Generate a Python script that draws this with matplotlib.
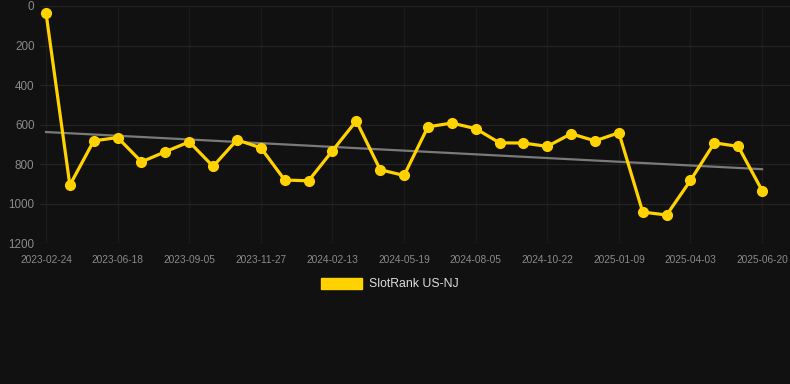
import matplotlib.pyplot as plt
import numpy as np
from matplotlib.patches import Patch

# ranks (lower is better, axis inverted)
ranks = [35, 906, 682, 665, 788, 737, 687, 811, 677, 717,
         880, 884, 732, 581, 828, 857, 611, 592, 620, 692,
         693, 710, 646, 682, 641, 1042, 1057, 882, 692, 710, 933]
tick_labels = ["2023-02-24", "2023-06-18", "2023-09-05", "2023-11-27",
               "2024-02-13", "2024-05-19", "2024-08-05", "2024-10-22",
               "2025-01-09", "2025-04-03", "2025-06-20"]
series_name = "SlotRank US-NJ"

bg = "#111111"
gold = "#FFD200"

fig = plt.figure(figsize=(7.9, 3.84), dpi=100, facecolor=bg)
ax = fig.add_axes([40 / 790, 1 - 243.3 / 384, 750 / 790, (243.3 - 6) / 384])
ax.set_facecolor(bg)

x = np.arange(len(ranks))

# trend line (least squares fit)
k, b = np.polyfit(x, ranks, 1)
ax.plot(x, k * x + b, color="#7a7a7a", lw=1.6, zorder=2)

ax.plot(x, ranks, color=gold, lw=2.3, marker="o", markersize=7,
        markerfacecolor=gold, markeredgecolor=gold, zorder=3)

step = 23.87
ax.set_xlim(-6 / step, (790 - 46) / step)
ax.set_ylim(1200, 0)
ax.set_yticks([0, 200, 400, 600, 800, 1000, 1200])
ax.set_xticks(x[::3])
ax.set_xticklabels(tick_labels)

ax.grid(True, axis="y", color="#232323", lw=0.9)
ax.grid(True, axis="x", color="#1c1c1c", lw=0.9)
for s in ax.spines.values():
    s.set_visible(False)
ax.tick_params(axis="both", length=0, colors="#8a8a8a")
ax.tick_params(axis="y", labelsize=8.4, pad=4)
ax.tick_params(axis="x", labelsize=7.3, pad=8.5)
for lbl in ax.get_xticklabels() + ax.get_yticklabels():
    lbl.set_fontfamily("Liberation Sans")

handle = Patch(facecolor=gold, edgecolor=gold)
leg = fig.legend([handle], [series_name], loc="center", bbox_to_anchor=(390 / 790, 1 - 284 / 384),
                 frameon=False, handlelength=3.3, handleheight=1.0, handletextpad=0.6,
                 prop={"family": "Liberation Sans", "size": 8.8})
for t in leg.get_texts():
    t.set_color("#dddddd")

fig.savefig("out.png", dpi=100, facecolor=bg)
